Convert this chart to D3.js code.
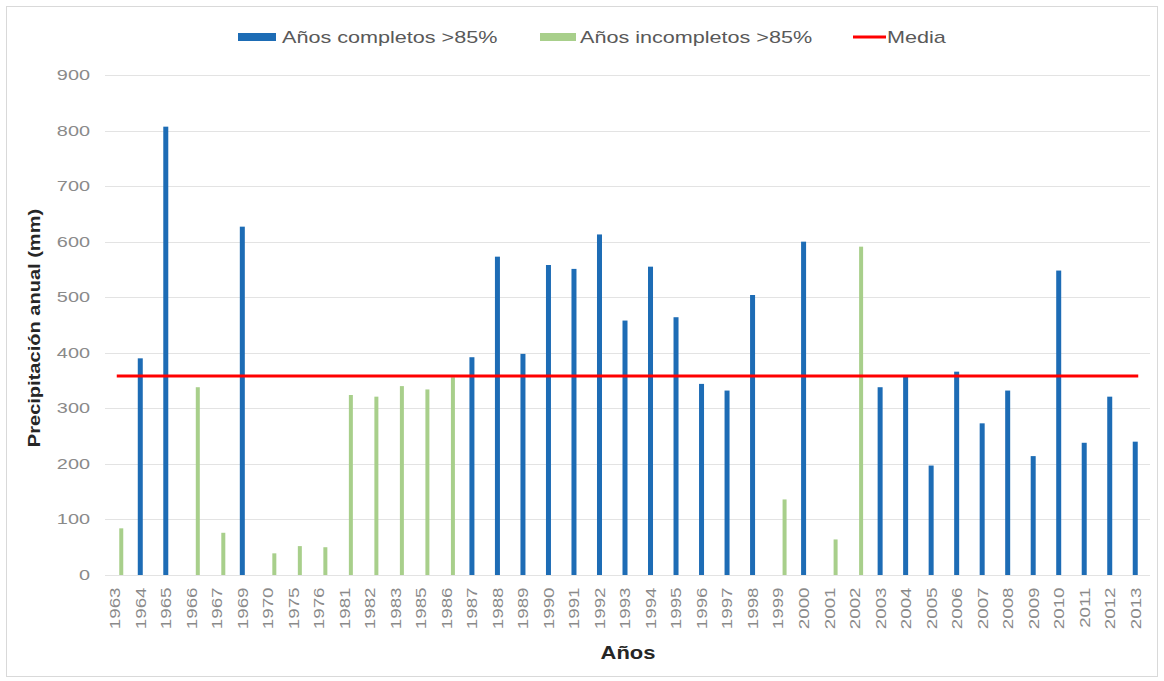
<!DOCTYPE html>
<html><head><meta charset="utf-8">
<script src="https://cdn.jsdelivr.net/npm/d3@7"></script>
<style>body{margin:0;background:#fff;}svg{display:block;font-family:"Liberation Sans",Arial,sans-serif;}</style>
</head><body>
<svg id="c" width="1164" height="681"></svg>
<script>
const years = ["1963","1964","1965","1966","1967","1969","1970","1975","1976","1981","1982","1983","1985","1986","1987","1988","1989","1990","1991","1992","1993","1994","1995","1996","1997","1998","1999","2000","2001","2002","2003","2004","2005","2006","2007","2008","2009","2010","2011","2012","2013"];
const completos = [null,390,807,null,null,627,null,null,null,null,null,null,null,null,392,573,398,558,551,613,458,555,464,344,332,504,null,600,null,null,338,358,197,366,273,332,214,548,238,321,240];
const incompletos = [84,null,null,338,76,null,39,52,50,324,321,340,334,356,null,null,null,null,null,null,null,null,null,null,null,null,136,null,64,591,null,null,null,null,null,null,null,null,null,null,null];
const media = 358;
const yTicks = [0,100,200,300,400,500,600,700,800,900];
const legendLabels = ["Años completos >85%","Años incompletos >85%","Media"];

(function(){
const svg = d3.select("#c");
const W = 1164, H = 681;
const pL = 102, pR = 1148, pT = 75, pB = 575;
const cBlue = "#1d6cb5", cGreen = "#a8cf8b", cRed = "#ff0000";
const ff = "Liberation Sans, Arial, sans-serif";

svg.append("rect").attr("x",6.5).attr("y",6.5).attr("width",W-13).attr("height",H-11)
  .attr("fill","#fff").attr("stroke","#d9d9d9");

const x = d3.scaleBand().domain(years).range([pL,pR]).padding(0);
const y = d3.scaleLinear().domain([0,900]).range([pB,pT]);

svg.append("g").selectAll("line").data(yTicks).join("line")
  .attr("x1",pL+3).attr("x2",pR+2)
  .attr("y1",d=>Math.round(y(d))+0.5).attr("y2",d=>Math.round(y(d))+0.5)
  .attr("stroke","#e3e3e3").attr("stroke-width",1);

const yAxis = d3.axisLeft(y).tickValues(yTicks).tickSize(0).tickPadding(0);
const gy = svg.append("g").attr("transform",`translate(90,0)`).call(yAxis);
gy.select(".domain").remove();
gy.selectAll("text").attr("fill","#8a8a8a").attr("font-size",14).attr("font-family",ff)
  .attr("x",0).attr("text-anchor","end").attr("transform","scale(1.42,1)");

const xAxis = d3.axisBottom(x).tickSize(0).tickPadding(0);
const gx = svg.append("g").attr("transform",`translate(0,${pB})`).call(xAxis);
gx.select(".domain").remove();
gx.selectAll("text").attr("fill","#8a8a8a").attr("font-size",15).attr("font-family",ff)
  .attr("transform","rotate(-90) scale(1.25,1)").attr("text-anchor","end")
  .attr("x",-10).attr("y",0).attr("dy","0.36em");

const bw = x.bandwidth();
svg.append("g").selectAll("rect").data(years.map((yr,i)=>({yr,v:completos[i]})).filter(d=>d.v!=null)).join("rect")
  .attr("x",d=>x(d.yr)+bw/2-2.5).attr("width",5)
  .attr("y",d=>y(d.v)).attr("height",d=>y(0)-y(d.v)).attr("fill",cBlue);
svg.append("g").selectAll("rect").data(years.map((yr,i)=>({yr,v:incompletos[i]})).filter(d=>d.v!=null)).join("rect")
  .attr("x",d=>x(d.yr)+bw/2+4.5).attr("width",4)
  .attr("y",d=>y(d.v)).attr("height",d=>y(0)-y(d.v)).attr("fill",cGreen);

svg.append("line").attr("x1",x(years[0])+bw/2+2).attr("x2",x(years[years.length-1])+bw/2+3)
  .attr("y1",y(media)).attr("y2",y(media)).attr("stroke",cRed).attr("stroke-width",3);

svg.append("text").attr("transform",`translate(40,328) rotate(-90) scale(1.18,1)`)
  .attr("text-anchor","middle").attr("font-weight","bold").attr("font-size",17).attr("fill","#262626")
  .text("Precipitación anual (mm)");
svg.append("text").attr("transform","translate(628,659) scale(1.22,1)").attr("text-anchor","middle")
  .attr("font-weight","bold").attr("font-size",18).attr("fill","#262626").text("Años");

const lg = svg.append("g");
lg.append("rect").attr("x",238).attr("y",33).attr("width",38).attr("height",8).attr("fill",cBlue);
lg.append("text").attr("transform","translate(282,43) scale(1.27,1)").attr("font-size",17).attr("fill","#595959").text(legendLabels[0]);
lg.append("rect").attr("x",540).attr("y",33).attr("width",36).attr("height",8).attr("fill",cGreen);
lg.append("text").attr("transform","translate(580,43) scale(1.27,1)").attr("font-size",17).attr("fill","#595959").text(legendLabels[1]);
lg.append("line").attr("x1",853).attr("x2",886).attr("y1",37).attr("y2",37).attr("stroke",cRed).attr("stroke-width",3);
lg.append("text").attr("transform","translate(887,43) scale(1.27,1)").attr("font-size",17).attr("fill","#595959").text(legendLabels[2]);
})();
</script>
</body></html>
